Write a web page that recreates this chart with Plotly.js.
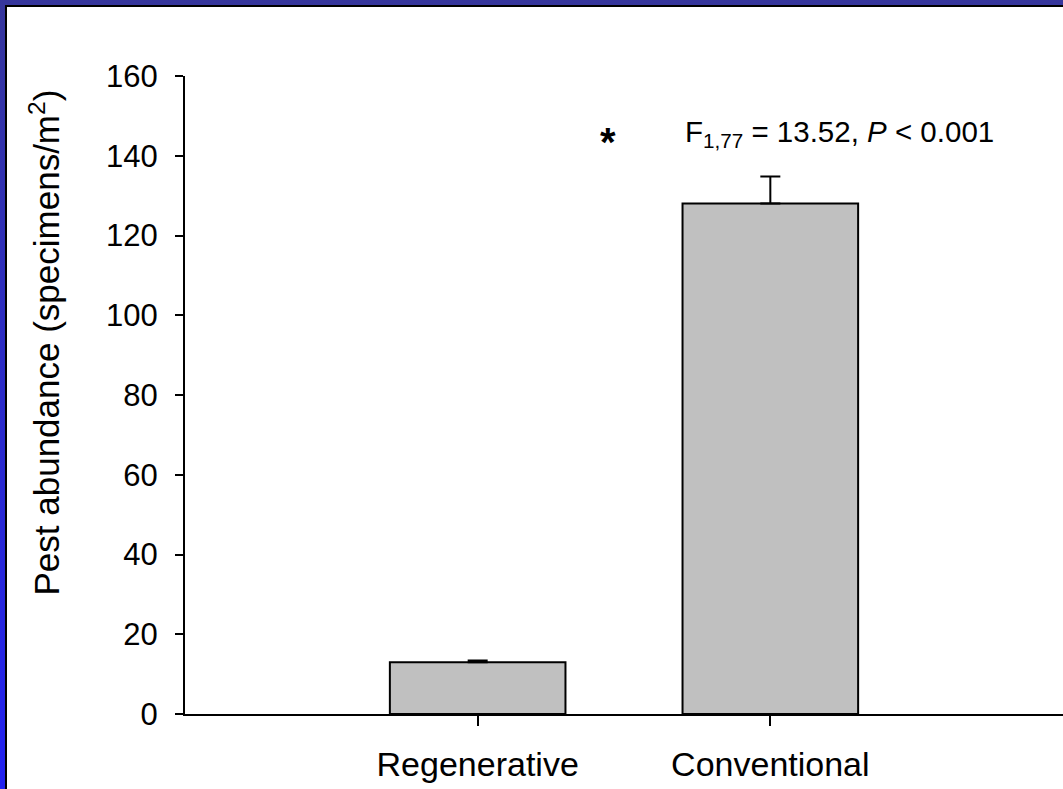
<!DOCTYPE html>
<html>
<head>
<meta charset="utf-8">
<script src="https://cdn.plot.ly/plotly-3.0.1.min.js"></script>
<style>
  html, body { margin: 0; padding: 0; }
  body { width: 1063px; height: 789px; position: relative; overflow: hidden;
         background: linear-gradient(to bottom, #36369c 0%, #2c2cc4 45%, #2222f0 100%); }
  #frame { position: absolute; left: 5px; top: 5px; right: 0; bottom: 0;
           background: #ffffff; border-left: 2px solid #000; border-top: 2px solid #000; }
  #chart { position: absolute; left: 0; top: 0; width: 1063px; height: 789px; }
</style>
</head>
<body>
<div id="frame"></div>
<div id="chart"></div>
<script>
const categories = ["Regenerative", "Conventional"];
const abundance = [13.0, 128.0];
const stdErr = [0.4, 6.8];
const yTicks = [0, 20, 40, 60, 80, 100, 120, 140, 160];
const yTitle = "Pest abundance (specimens/m<sup>2</sup>)";
const statText = "F<sub>1,77</sub> = 13.52, <i>P</i> < 0.001";
const sigMark = "<b>*</b>";

const font = "Arial, 'Liberation Sans', sans-serif";

const trace = {
  type: "bar",
  x: categories,
  y: abundance,
  width: 0.6,
  marker: { color: "#c0c0c0", line: { color: "#000000", width: 2 } },
  error_y: { type: "data", array: stdErr, symmetric: false, arrayminus: [0, 0],
             visible: true, color: "#000000", thickness: 2, width: 10 },
  hoverinfo: "skip"
};

const layout = {
  width: 1063, height: 789,
  paper_bgcolor: "rgba(0,0,0,0)",
  plot_bgcolor: "rgba(0,0,0,0)",
  margin: { l: 185, r: 0, t: 76, b: 75 },
  showlegend: false,
  xaxis: {
    type: "category", range: [-1, 2],
    showline: true, linecolor: "#000", linewidth: 2,
    ticks: "outside", ticklen: 10, tickwidth: 2, tickcolor: "#000",
    showgrid: false, zeroline: false,
    ticklabelstandoff: 9,
    tickfont: { family: font, size: 34, color: "#000" }
  },
  yaxis: {
    range: [0, 160], tickvals: yTicks, ticktext: yTicks.map(String),
    showline: true, linecolor: "#000", linewidth: 2,
    ticks: "outside", ticklen: 8, tickwidth: 2, tickcolor: "#000",
    showgrid: false, zeroline: false,
    ticklabelstandoff: 11,
    tickfont: { family: font, size: 31, color: "#000" }
  },
  annotations: [
    { text: yTitle, textangle: -90, xref: "paper", yref: "paper",
      x: -0.16, y: 0.5815, xanchor: "center", yanchor: "middle", showarrow: false,
      font: { family: font, size: 35, color: "#000" } },
    { text: statText, xref: "paper", yref: "paper",
      x: 0.567, y: 0.91, xanchor: "left", yanchor: "middle", showarrow: false,
      font: { family: font, size: 29.5, color: "#000" } },
    { text: sigMark, xref: "paper", yref: "paper",
      x: 0.482, y: 0.896, xanchor: "center", yanchor: "middle", showarrow: false,
      font: { family: font, size: 40, color: "#000" } }
  ]
};

Plotly.newPlot("chart", [trace], layout, { displayModeBar: false, staticPlot: true });
</script>
</body>
</html>
